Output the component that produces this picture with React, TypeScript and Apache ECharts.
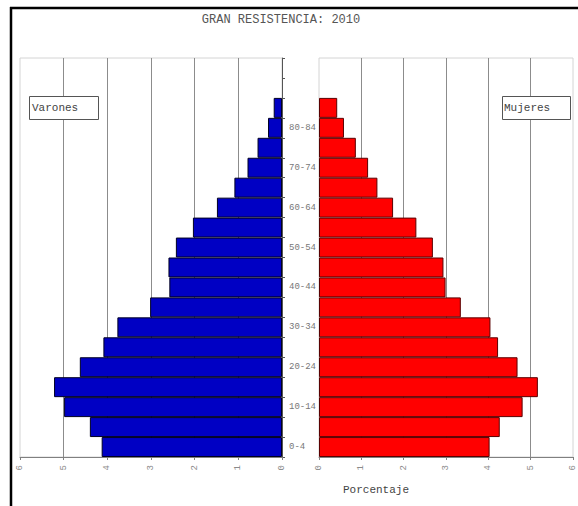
import React, { useEffect, useRef } from "react";
import * as echarts from "echarts";

const ages = [
  "0-4", "5-9", "10-14", "15-19", "20-24", "25-29", "30-34", "35-39", "40-44",
  "45-49", "50-54", "55-59", "60-64", "65-69", "70-74", "75-79", "80-84", "85-89",
  "90-94", "95+",
];
const varones = [4.13, 4.4, 4.99, 5.22, 4.63, 4.09, 3.77, 3.02, 2.58, 2.6, 2.43, 2.04, 1.49, 1.09, 0.79, 0.56, 0.32, 0.19, null, null];
const mujeres = [4.03, 4.27, 4.81, 5.17, 4.69, 4.23, 4.05, 3.35, 2.99, 2.94, 2.69, 2.3, 1.75, 1.38, 1.16, 0.87, 0.59, 0.43, null, null];
const xTicks = [0, 1, 2, 3, 4, 5, 6];
const title = "GRAN RESISTENCIA: 2010";
const axisTitle = "Porcentaje";
const legendMen = "Varones";
const legendWomen = "Mujeres";

const MONO = "'Liberation Mono', 'DejaVu Sans Mono', monospace";

export default function App() {
  const ref = useRef<HTMLDivElement>(null);
  useEffect(() => {
    if (!ref.current) return;
    const chart = echarts.init(ref.current, null, { renderer: "svg" });
    const xAxisCommon = (gridIndex: number, inverse: boolean) => ({
      type: "value",
      gridIndex,
      inverse,
      min: xTicks[0],
      max: xTicks[xTicks.length - 1],
      interval: 1,
      axisLine: { show: true, onZero: false, lineStyle: { color: "#808080", width: 1 } },
      axisTick: { show: true, length: 3, lineStyle: { color: "#808080" } },
      axisLabel: { rotate: 90, fontSize: 9, color: "#8a8a8a", fontFamily: MONO, margin: 8 },
      splitLine: { show: true, showMinLine: false, showMaxLine: false, lineStyle: { color: "#8c8c8c", width: 1 } },
    });
    chart.setOption({
      animation: false,
      backgroundColor: "#ffffff",
      grid: [
        { left: 20, width: 262, top: 58, height: 399, show: true, borderColor: "#d4d4d4", borderWidth: 1, containLabel: false },
        { left: 319, width: 254, top: 58, height: 399, show: true, borderColor: "#d4d4d4", borderWidth: 1, containLabel: false },
      ],
      xAxis: [xAxisCommon(0, true), xAxisCommon(1, false)],
      yAxis: [
        {
          type: "category",
          gridIndex: 0,
          position: "right",
          data: ages,
          axisLine: { show: true, onZero: false, lineStyle: { color: "#555555", width: 1 } },
          axisTick: { show: true, length: 3, interval: 0, lineStyle: { color: "#555555" } },
          axisLabel: {
            interval: (i: number) => i % 2 === 0 && i <= 16,
            fontSize: 9,
            color: "#777777",
            fontFamily: MONO,
            margin: 7,
            align: "left",
          },
          splitLine: { show: false },
        },
        {
          type: "category",
          gridIndex: 1,
          data: ages,
          axisLine: { show: false },
          axisTick: { show: false },
          axisLabel: { show: false },
          splitLine: { show: false },
        },
      ],
      series: [
        {
          name: legendMen,
          type: "bar",
          xAxisIndex: 0,
          yAxisIndex: 0,
          data: varones,
          barCategoryGap: "0%",
          itemStyle: { color: "#0000c4", borderColor: "#000022", borderWidth: 1 },
        },
        {
          name: legendWomen,
          type: "bar",
          xAxisIndex: 1,
          yAxisIndex: 1,
          data: mujeres,
          barCategoryGap: "0%",
          itemStyle: { color: "#ff0000", borderColor: "#5a0000", borderWidth: 1 },
        },
      ],
      graphic: [
        { type: "line", shape: { x1: 10, y1: 8, x2: 578, y2: 8 }, style: { stroke: "#000", lineWidth: 2.5 } },
        { type: "line", shape: { x1: 11, y1: 7, x2: 11, y2: 506 }, style: { stroke: "#000", lineWidth: 2.5 } },
        {
          type: "text",
          x: 281,
          y: 20,
          style: { text: title, fontSize: 12, fontFamily: MONO, fill: "#555555", textAlign: "center", textVerticalAlign: "middle" },
        },
        {
          type: "rect",
          shape: { x: 29.5, y: 96.5, width: 69, height: 23 },
          style: { fill: "#ffffff", stroke: "#555555", lineWidth: 1 },
          z: 10,
        },
        {
          type: "text",
          x: 32,
          y: 108,
          z: 11,
          style: { text: legendMen, fontSize: 11, fontFamily: MONO, fill: "#444444", textVerticalAlign: "middle" },
        },
        {
          type: "rect",
          shape: { x: 502.5, y: 96.5, width: 68, height: 23 },
          style: { fill: "#ffffff", stroke: "#555555", lineWidth: 1 },
          z: 10,
        },
        {
          type: "text",
          x: 504,
          y: 108,
          z: 11,
          style: { text: legendWomen, fontSize: 11, fontFamily: MONO, fill: "#444444", textVerticalAlign: "middle" },
        },
        {
          type: "text",
          x: 376,
          y: 490,
          style: { text: axisTitle, fontSize: 11, fontFamily: MONO, fill: "#444444", textAlign: "center", textVerticalAlign: "middle" },
        },
      ],
    });
    return () => chart.dispose();
  }, []);
  return <div ref={ref} style={{ position: "absolute", left: 0, top: 0, width: 578, height: 506 }} />;
}
